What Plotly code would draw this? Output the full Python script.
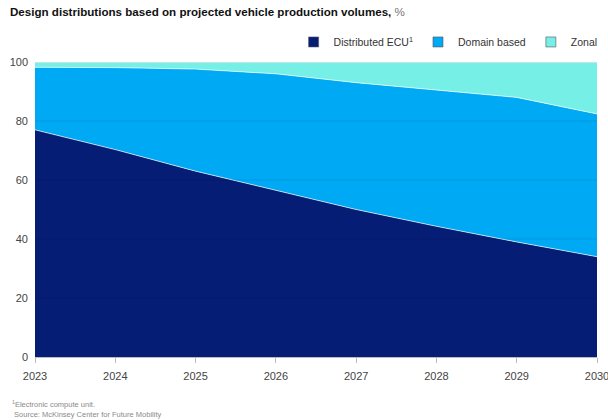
import plotly.graph_objects as go

years = [2023, 2024, 2025, 2026, 2027, 2028, 2029, 2030]
distributed_ecu = [77.0, 70.3, 63.0, 56.6, 50.0, 44.3, 39.0, 34.0]
domain_based = [21.2, 27.8, 34.6, 39.4, 43.0, 46.2, 49.0, 48.4]
zonal = [1.8, 1.9, 2.4, 4.0, 7.0, 9.5, 12.0, 17.6]
y_ticks = [0, 20, 40, 60, 80, 100]

series = [
    ("Distributed ECU<sup>1</sup>", distributed_ecu, "#051D75"),
    ("Domain based", domain_based, "#00A9F4"),
    ("Zonal", zonal, "#76F0E6"),
]

fig = go.Figure()
for name, vals, color in series:
    fig.add_trace(go.Scatter(
        x=years, y=vals, name=name, mode="lines",
        stackgroup="one", fillcolor=color,
        line=dict(color="rgba(255,255,255,0.8)", width=0.8),
        showlegend=False, hoverinfo="x+y+name",
    ))
# legend entries with square swatches
for name, vals, color in series:
    fig.add_trace(go.Scatter(
        x=[None], y=[None], name=name, mode="markers",
        marker=dict(symbol="square", size=10, color=color,
                    line=dict(color="#555555", width=0.6)),
        showlegend=True,
    ))

# faint gridlines drawn above the areas
shapes = []
for t in y_ticks:
    if t == 0:
        continue
    shapes.append(dict(type="line", xref="paper", x0=0, x1=1, yref="y", y0=t, y1=t,
                       line=dict(color="rgba(0,0,0,0.09)" if t != 100 else "#dddddd", width=1),
                       layer="above"))

fig.update_layout(
    width=608, height=420,
    margin=dict(l=35, r=11, t=62, b=63, autoexpand=False),
    paper_bgcolor="white", plot_bgcolor="white",
    font=dict(family="Liberation Sans, Arial, sans-serif", size=11, color="#333333"),
    title=dict(
        text="<b>Design distributions based on projected vehicle production volumes,</b> <span style='color:#777777'>%</span>",
        x=0.0164, xref="container", xanchor="left", y=0.971, yanchor="middle",
        font=dict(size=11.6, color="#111111"),
    ),
    legend=dict(
        orientation="h", x=1.01, xanchor="right", y=1.068, yanchor="middle",
        font=dict(size=10.5, color="#333333"), traceorder="normal",
        itemwidth=30, bgcolor="rgba(0,0,0,0)",
    ),
    shapes=shapes,
    showlegend=True,
)
fig.update_xaxes(
    range=[2023, 2030], tickvals=years, ticktext=[str(y) for y in years],
    showgrid=False, showline=True, linecolor="#bbbbbb", linewidth=1,
    ticks="outside", ticklen=5, tickcolor="#bbbbbb", ticklabelstandoff=4,
    ticklabeloverflow="allow", automargin=False,
    tickfont=dict(size=11, color="#444444"), zeroline=False,
)
fig.update_yaxes(
    range=[0, 100], tickvals=y_ticks, showgrid=True, gridcolor="#e6e6e6",
    zeroline=False, showline=False, ticks="", ticklabelstandoff=6, automargin=False,
    tickfont=dict(size=11, color="#444444"),
)
fig.add_annotation(
    text="<sup>1</sup>Electronic compute unit.<br> Source: McKinsey Center for Future Mobility",
    xref="paper", yref="paper", x=-0.0445, y=-0.136, xanchor="left", yanchor="top",
    align="left", showarrow=False, font=dict(size=7.5, color="#8a8a8a"),
)

fig.write_html("out.html", config={"displayModeBar": False},
               post_script="document.body.style.margin='0';document.body.style.padding='0';document.body.style.overflow='hidden';")
